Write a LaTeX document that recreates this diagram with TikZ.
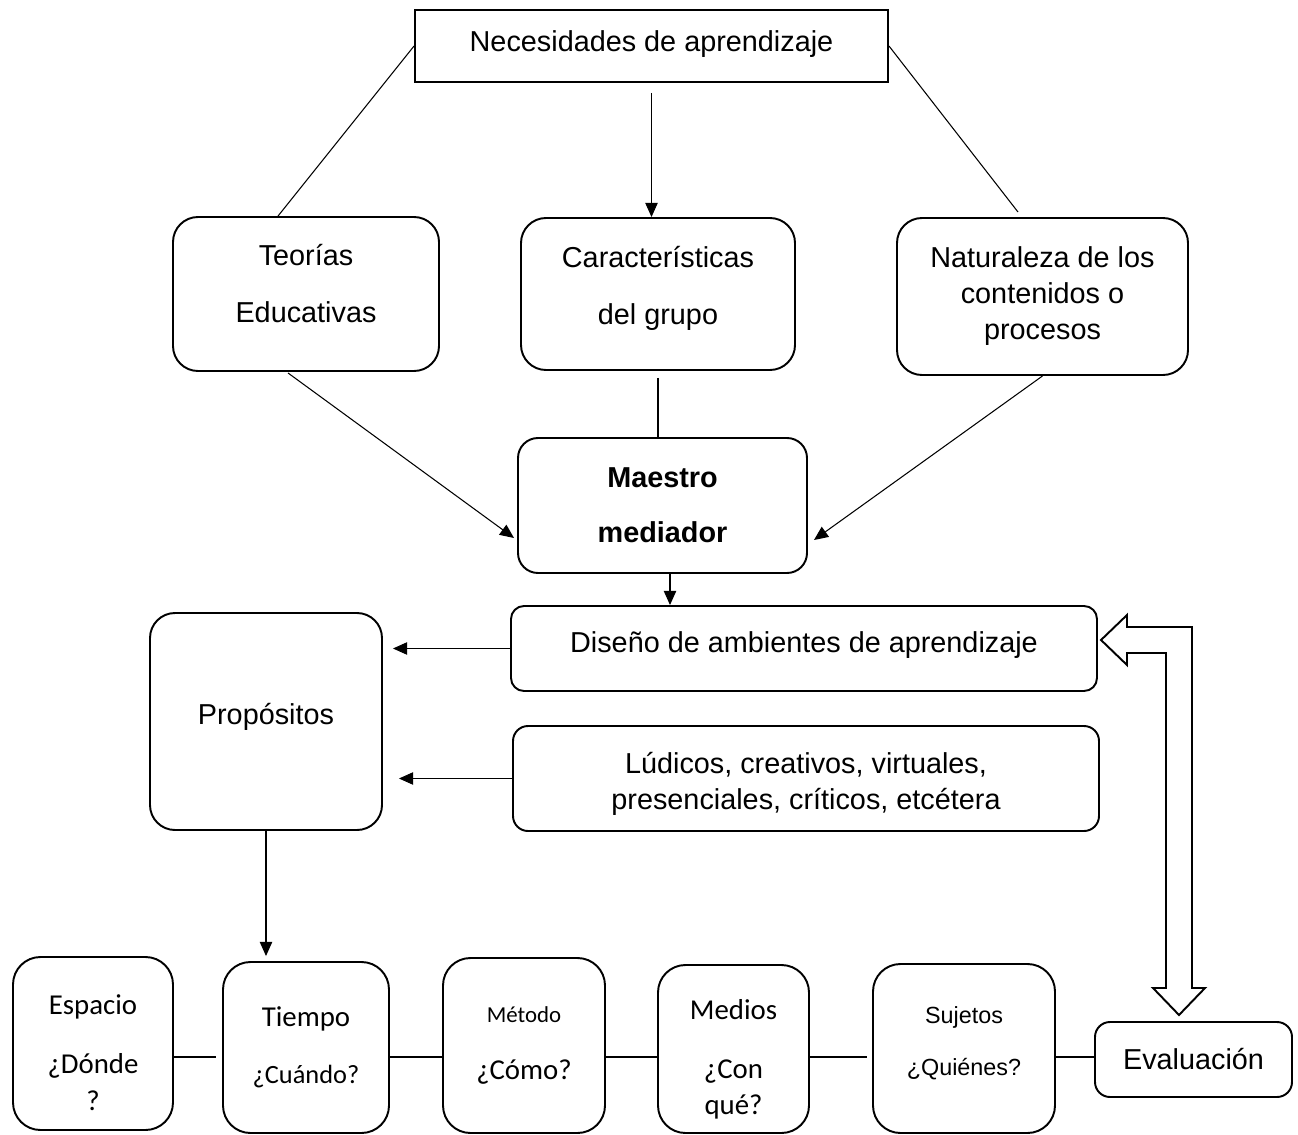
\documentclass[tikz,border=0pt]{standalone}
\usepackage{fontspec}
\setmainfont{Liberation Sans}
\newfontfamily\calibri{Carlito}
\usepackage{tikz}
\usetikzlibrary{arrows.meta,calc}
\newcommand{\textsz}{\fontsize{16.4}{20.5}\selectfont}
\newcommand{\smallsz}{\fontsize{13.3}{16}\selectfont}
% struts to move text inside its box
\newcommand{\deepstrut}[1]{\rule[-#1]{0pt}{0pt}}
\newcommand{\tallstrut}[1]{\rule{0pt}{#1}}
\tikzset{boxsize/.style 2 args={minimum width=#1*0.02cm, minimum height=#2*0.02cm}}
\tikzstyle{concept}=[draw, line width=1.1pt, align=center, inner sep=0, font=\textsz]
\tikzstyle{rconcept}=[concept, rounded corners=0.5cm]
\tikzstyle{qconcept}=[rconcept, rounded corners=0.55cm, font=\calibri\textsz]
\tikzstyle{link}=[line width=0.6pt]
\tikzstyle{flow}=[link, -{Triangle[length=8pt, width=7pt]}]
\tikzstyle{flowchart}=[x=0.02cm, y=-0.02cm, line join=miter]

\begin{document}
\begin{tikzpicture}[flowchart]
    \useasboundingbox (0, 0) rectangle (1298, 1135);
    % upper part
    \node[concept, boxsize={473}{72}] (Nec) at (651.5, 46) {Necesidades de aprendizaje\deepstrut{6pt}};
    \node[rconcept, boxsize={266}{154}] (Teo) at (306, 294) {Teorías\\[12pt]Educativas\deepstrut{12.4pt}};
    \node[rconcept, boxsize={274}{152}] (Car) at (658, 294) {Características\\[12pt]del grupo\deepstrut{10.3pt}};
    \node[rconcept, boxsize={291}{157}] (Nat) at (1042.5, 296.5) {Naturaleza de los\\contenidos o\\procesos};
    \node[rconcept, rounded corners=0.4cm, boxsize={289}{135}, font=\textsz\bfseries] (Mae) at (662.5, 505.5) {Maestro\\[11pt]mediador};
    \node[rconcept, rounded corners=0.26cm, boxsize={586}{85}] (Dis) at (804, 648.5) {Diseño de ambientes de aprendizaje\deepstrut{6.9pt}};
    \node[rconcept, rounded corners=0.3cm, boxsize={586}{105}] (Lud) at (806, 778.5) {\tallstrut{18pt}Lúdicos, creativos, virtuales,\\presenciales, críticos, etcétera};
    \node[rconcept, boxsize={232}{217}] (Pro) at (266, 721.5) {Propósitos\deepstrut{8.1pt}};
    % lower row
    \node[qconcept, boxsize={160}{173}] (Esp) at (93, 1043.5) {\tallstrut{21.3pt}Espacio\\[13.5pt]¿Dónde\\?};
    \node[qconcept, boxsize={166}{171}] (Tie) at (306, 1047.5) {Tiempo\\[12pt]{\fontsize{15}{18}\selectfont ¿Cuándo?}};
    \node[qconcept, boxsize={162}{175}] (Met) at (524, 1045.5) {{\fontsize{13}{16}\selectfont Método}\\[12pt]¿Cómo?};
    \node[qconcept, boxsize={151}{168}] (Med) at (733.5, 1049) {\tallstrut{23.6pt}Medios\\[13pt]¿Con\\qué?};
    \node[rconcept, rounded corners=0.55cm, boxsize={182}{169}, font=\smallsz] (Suj) at (964, 1048.5) {Sujetos\\[14pt]¿Quiénes?\deepstrut{8.4pt}};
    \node[rconcept, rounded corners=0.3cm, boxsize={197}{75}] (Eva) at (1193.5, 1059.5) {Evaluación};

    \draw[link] (Nec.west) -- ($(Teo.north)+(-28, 0)$);
    \draw[link] (Nec.east) -- ($(Nat.north)+(-24.5, -5)$);
    \draw[flow] ($(Nec.south)+(0, 10)$) -- (Nec.south |- Car.north);
    \draw[flow] ($(Teo.south)+(-18, 1)$) -- ($(Mae.west)+(-3, 32.5)$);
    \draw[link] ($(Car.south)+(0, 7)$) -- (Car.south |- Mae.north);
    \draw[flow] (Nat.south) -- ($(Mae.east)+(6, 34.5)$);
    \coordinate (MaeOut) at ($(Mae.south)+(7.5, 0)$);
    \draw[flow] (MaeOut) -- (MaeOut |- Dis.north);
    \draw[flow, shorten >=0.2cm] (Dis.west) -- (Dis.west -| Pro.east);
    \draw[flow, shorten >=0.32cm] (Lud.west) -- (Lud.west -| Pro.east);
    \draw[flow, shorten >=0.1cm] (Pro.south) -- (Pro.south |- Tie.north);

    \coordinate (Row) at (0, 1057);
    \draw[link, shorten >=0.12cm] (Esp.east |- Row) -- (Tie.west |- Row);
    \draw[link] (Tie.east |- Row) -- (Met.west |- Row);
    \draw[link] (Met.east |- Row) -- (Med.west |- Row);
    \draw[link, shorten >=0.1cm] (Med.east |- Row) -- (Suj.west |- Row);
    \draw[link] (Suj.east |- Row) -- (Eva.west |- Row);

    % feedback block arrow
    \draw[line width=1.1pt] (1101, 640) -- (1127, 615) -- (1127, 627) -- (1192, 627) -- (1192, 988)
        -- (1205, 988) -- (1179, 1015) -- (1153, 988) -- (1166, 988) -- (1166, 653)
        -- (1127, 653) -- (1127, 665) -- cycle;
\end{tikzpicture}
\end{document}
